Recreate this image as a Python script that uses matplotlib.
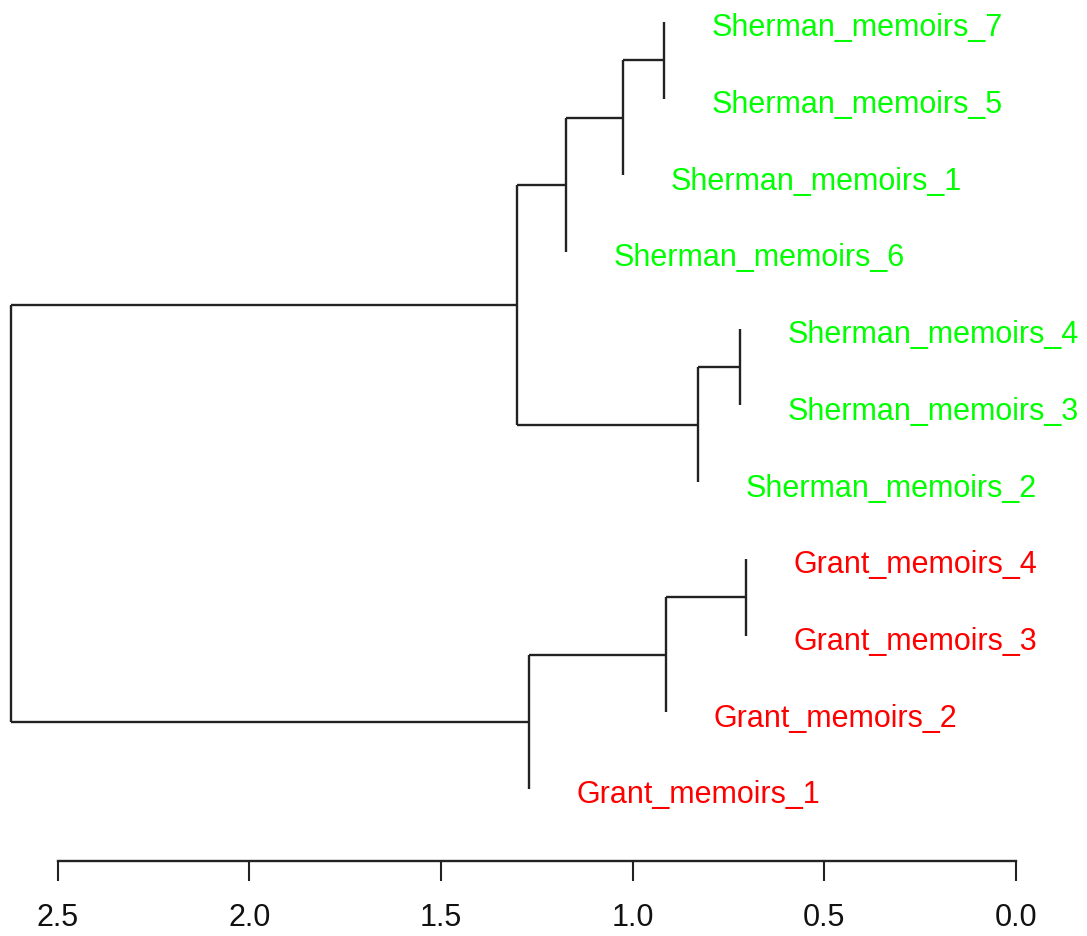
import matplotlib.pyplot as plt

# leaves, top to bottom
leaves = [
    "Sherman_memoirs_7", "Sherman_memoirs_5", "Sherman_memoirs_1",
    "Sherman_memoirs_6", "Sherman_memoirs_4", "Sherman_memoirs_3",
    "Sherman_memoirs_2", "Grant_memoirs_4", "Grant_memoirs_3",
    "Grant_memoirs_2", "Grant_memoirs_1",
]
leaf_colors = ["#00ff00"] * 7 + ["#ff0000"] * 4

# merges: (left, right, height); ints are leaf indices, "cN" refers to merge N
merges = [
    (0, 1, 0.919),        # c0
    ("c0", 2, 1.026),     # c1
    ("c1", 3, 1.174),     # c2
    (4, 5, 0.720),        # c3
    ("c3", 6, 0.830),     # c4
    ("c2", "c4", 1.302),  # c5
    (7, 8, 0.705),        # c6
    ("c6", 9, 0.913),     # c7
    ("c7", 10, 1.271),    # c8
    ("c5", "c8", 2.623),  # c9
]
ticks = [2.5, 2.0, 1.5, 1.0, 0.5, 0.0]
label_offset = 0.125

plt.rcParams["font.family"] = ["Liberation Sans", "DejaVu Sans"]

fig = plt.figure(figsize=(10.87, 9.37), dpi=100)
ax = fig.add_axes([0, 0, 1, 1])

pos = {}
parent_h = {}
for k, (a, b, h) in enumerate(merges):
    for c in (a, b):
        parent_h[c] = h
    ya = pos[a][0] if isinstance(a, str) else a
    yb = pos[b][0] if isinstance(b, str) else b
    # vertical bar joining children
    ax.plot([h, h], [ya, yb], color="#222222", lw=1.7, solid_capstyle="butt")
    # horizontal stems from child clusters
    for c, yc in ((a, ya), (b, yb)):
        if isinstance(c, str):
            ax.plot([pos[c][1], h], [yc, yc], color="#222222", lw=1.7,
                    solid_capstyle="butt")
    pos["c%d" % k] = ((ya + yb) / 2, h)

for i, (name, col) in enumerate(zip(leaves, leaf_colors)):
    ax.text(parent_h[i] - label_offset, i + 0.07, name, color=col,
            fontsize=22, ha="left", va="center")

ax.set_xlim(2.651, -0.186)
ax.set_ylim(11.917, -0.300)

for s in ("top", "right", "left"):
    ax.spines[s].set_visible(False)
ax.spines["bottom"].set_position(("data", 10.939))
ax.spines["bottom"].set_bounds(0, 2.5)
ax.spines["bottom"].set_linewidth(1.7)
ax.spines["bottom"].set_color("#222222")
ax.set_yticks([])
ax.set_xticks(ticks)
ax.set_xticklabels(["%.1f" % t for t in ticks])
ax.tick_params(axis="x", direction="out", length=14.4, width=1.5,
               color="#222222", labelsize=22, pad=15, labelcolor="#111111")

fig.savefig("out.png", dpi=100)
